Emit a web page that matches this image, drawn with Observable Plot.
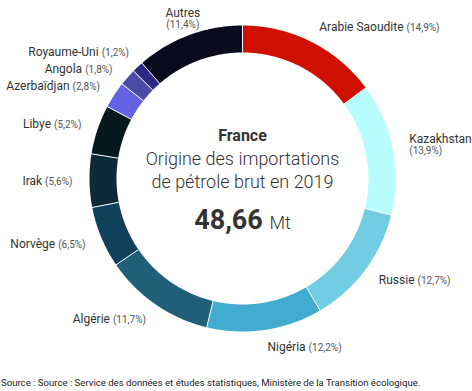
<!DOCTYPE html>
<html><head><meta charset="utf-8">
<script src="https://cdn.jsdelivr.net/npm/d3@7"></script>
<script src="https://cdn.jsdelivr.net/npm/@observablehq/plot@0.6"></script>
<style>
body{margin:0;background:#fff;font-family:Roboto,sans-serif;}
#source{font-size:9.6px;color:#222;line-height:14px;margin-top:4px;padding-left:1px;white-space:nowrap;font-family:Roboto,sans-serif;}
</style></head><body>
<div id="chart"></div>
<div id="source"></div>
<script>
// ---- data ----
const countries = ["Arabie Saoudite","Kazakhstan","Russie","Nigéria","Algérie","Norvège","Irak","Libye","Azerbaïdjan","Angola","Royaume-Uni","Autres"];
const shares = [14.9,13.9,12.7,12.2,11.7,6.5,5.6,5.2,2.8,1.8,1.2,11.4];
const countryName = "France";
const titleLines = ["Origine des importations","de pétrole brut en 2019"];
const totalValue = "48,66";
const totalUnit = "Mt";
const sourceText = "Source : Source : Service des données et études statistiques, Ministère de la Transition écologique.";

// ---- style / layout ----
const colors = ["#cf1000","#b8fcfc","#72cde4","#41acd0","#1f5f78","#10405a","#0c2b37","#06191f","#6262e2","#4a4aa9","#2a2a82","#0a0a1f"];
const W = 472, H = 372, CX = 242, CY = 178, R_OUT = 153, R_IN = 126, R_LABEL = 170, GAP = 17;
const fmt = v => v.toFixed(1).replace(".", ",");
const total = d3.sum(shares);

let acc = 0;
const slices = countries.map((name, i) => {
  const a0 = acc / total * 2 * Math.PI; acc += shares[i];
  const a1 = acc / total * 2 * Math.PI;
  return {name, value: shares[i], a0, a1, mid: (a0 + a1) / 2};
});

const ringPts = [];
for (const s of slices) {
  const n = Math.max(2, Math.ceil((s.a1 - s.a0) / (Math.PI / 360)));
  for (let k = 0; k <= n; k++) { const a = s.a0 + (s.a1 - s.a0) * k / n; ringPts.push({name: s.name, x: R_OUT * Math.sin(a), y: -R_OUT * Math.cos(a)}); }
  for (let k = n; k >= 0; k--) { const a = s.a0 + (s.a1 - s.a0) * k / n; ringPts.push({name: s.name, x: R_IN * Math.sin(a), y: -R_IN * Math.cos(a)}); }
}

const ctx = document.createElement("canvas").getContext("2d");
function measure(str, size) { ctx.font = `400 ${size}px Roboto`; return ctx.measureText(str).width; }

const labels = slices.map(s => {
  let a = s.mid; if (a > Math.PI) a -= 2 * Math.PI;
  const x = R_LABEL * Math.sin(a), y = -R_LABEL * Math.cos(a);
  const anchor = (a < 0 && a > -0.45) ? "middle" : (Math.sin(a) >= 0 ? "start" : "end");
  const pct = `(${fmt(s.value)}%)`;
  const w = measure(s.name + " ", 12) + measure(pct, 10);
  const wrap = anchor === "middle" || (anchor === "start" && CX + x + w > W);
  return {x, y, y0: y, anchor, text: wrap ? s.name + "\n" + pct : s.name + " " + pct};
});

// spread labels on each side so they do not overlap
for (const side of ["start", "end"]) {
  const group = labels.filter(d => d.anchor === side).sort((a, b) => a.y - b.y);
  for (let it = 0; it < 50; it++) {
    for (let i = 0; i < group.length - 1; i++) {
      const d = group[i + 1].y - group[i].y;
      if (d < GAP) { const s = (GAP - d) / 2; group[i].y -= s; group[i + 1].y += s; }
    }
  }
  for (const l of group) {
    if (l.y !== l.y0) l.x = Math.sign(l.x) * Math.sqrt(Math.max(0, R_LABEL * R_LABEL - l.y * l.y));
  }
}

const centerLines = [
  {text: countryName, y: -43, size: 16, weight: "bold"},
  {text: titleLines[0], y: -19, size: 18, weight: 300},
  {text: titleLines[1], y: 4, size: 18, weight: 300},
  {text: totalValue + " " + totalUnit, y: 42, size: 27, weight: "bold"}
];

const labelMarks = ["start", "middle", "end"].map(anchor =>
  Plot.text(labels.filter(d => d.anchor === anchor), {x: "x", y: "y", text: "text", textAnchor: anchor, fontSize: 12, fill: "#333", lineHeight: 1.1})
);
const centerMarks = centerLines.map(l =>
  Plot.text([l], {x: () => 0, y: "y", text: "text", fontSize: l.size, fontWeight: l.weight, fill: "#333"})
);

const svg = Plot.plot({
  width: W, height: H, margin: 0,
  style: {fontFamily: "Roboto, sans-serif", background: "#fff", overflow: "visible"},
  x: {domain: [-CX, W - CX], axis: null},
  y: {domain: [-CY, H - CY], range: [0, H], axis: null},
  color: {domain: countries, range: colors},
  marks: [
    Plot.line(ringPts, {x: "x", y: "y", z: "name", fill: "name", stroke: null}),
    Plot.link(slices, {
      x1: s => R_IN * Math.sin(s.a0), y1: s => -R_IN * Math.cos(s.a0),
      x2: s => (R_OUT + 0.5) * Math.sin(s.a0), y2: s => -(R_OUT + 0.5) * Math.cos(s.a0),
      stroke: "#fff", strokeWidth: 1
    }),
    ...labelMarks,
    ...centerMarks
  ]
});

// percentages in smaller grey type; total value with unit
d3.select(svg).selectAll("text").each(function() {
  const t = d3.select(this);
  const tspans = t.selectAll("tspan");
  const str = this.textContent;
  if (tspans.size() > 1) {
    tspans.each(function() { if (this.textContent.startsWith("(")) d3.select(this).attr("font-size", 10).attr("fill", "#555"); });
  } else if (/\(\d+,\d%\)$/.test(str) && tspans.size() === 0) {
    const k = str.lastIndexOf(" (");
    t.text(null);
    t.append("tspan").text(str.slice(0, k + 1));
    t.append("tspan").attr("font-size", 10).attr("fill", "#555").text(str.slice(k + 1));
  } else if (str === totalValue + " " + totalUnit) {
    t.text(null);
    t.append("tspan").text(totalValue + " ");
    t.append("tspan").attr("font-size", 18).attr("font-weight", 300).text(totalUnit);
  }
});

document.getElementById("chart").appendChild(svg);
document.getElementById("source").textContent = sourceText;
</script>
</body></html>
